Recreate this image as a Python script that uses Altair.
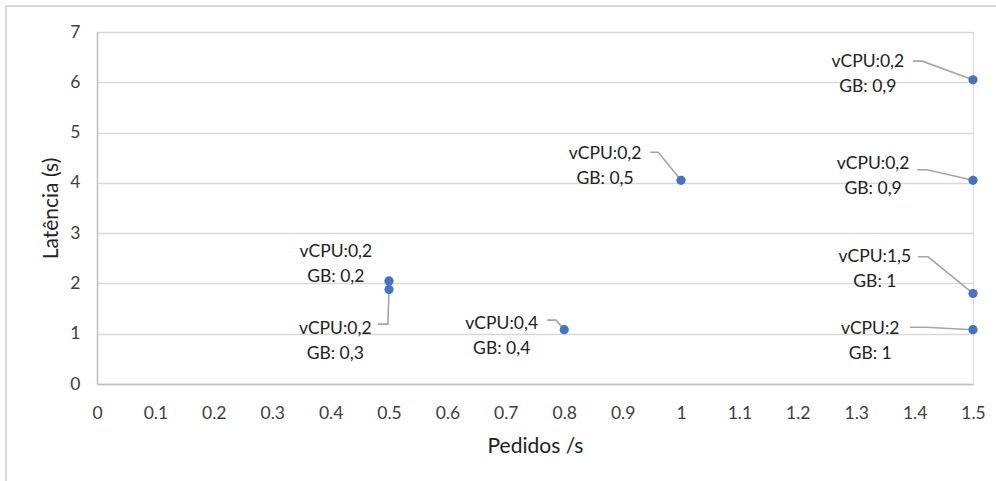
import altair as alt
import pandas as pd

# data
req_per_s = [0.5, 0.5, 0.8, 1.0, 1.5, 1.5, 1.5, 1.5]
latency_s = [2.05, 1.88, 1.08, 4.05, 6.05, 4.05, 1.80, 1.08]
vcpu_txt = ["vCPU:0,2", "vCPU:0,2", "vCPU:0,4", "vCPU:0,2", "vCPU:0,2", "vCPU:0,2", "vCPU:1,5", "vCPU:2"]
gb_txt = ["GB: 0,2", "GB: 0,3", "GB: 0,4", "GB: 0,5", "GB: 0,9", "GB: 0,9", "GB: 1", "GB: 1"]

# label anchor positions (data units)
label_x = [0.409, 0.408, 0.693, 0.870, 1.320, 1.329, 1.332, 1.324]
label_y = [2.63, 1.10, 1.20, 4.58, 6.40, 4.37, 2.52, 1.09]

# leader lines: start x, elbow x, y of horizontal segment (None = no leader)
lead_x0 = [None, 0.481, 0.771, 0.947, 1.397, 1.404, 1.406, 1.392]
lead_x1 = [None, 0.498, 0.786, 0.961, 1.413, 1.421, 1.423, 1.418]
lead_y = [None, 1.19, 1.27, 4.61, 6.42, 4.26, 2.53, 1.13]

x_ticks = [0, 0.1, 0.2, 0.3, 0.4, 0.5, 0.6, 0.7, 0.8, 0.9, 1, 1.1, 1.2, 1.3, 1.4, 1.5]
y_ticks = [0, 1, 2, 3, 4, 5, 6, 7]

FONT = "Lato"

pts = pd.DataFrame({"x": req_per_s, "y": latency_s})
labels = pd.DataFrame({
    "lx": label_x, "ly": label_y,
    "txt": [a + "\n" + b for a, b in zip(vcpu_txt, gb_txt)],
})
rows = []
for i in range(len(req_per_s)):
    if lead_x0[i] is None:
        continue
    rows.append({"id": i, "o": 0, "x": lead_x0[i], "y": lead_y[i]})
    rows.append({"id": i, "o": 1, "x": lead_x1[i], "y": lead_y[i]})
    rows.append({"id": i, "o": 2, "x": req_per_s[i], "y": latency_s[i]})
leads = pd.DataFrame(rows)

xscale = alt.Scale(domain=[0, 1.5], nice=False, zero=True)
yscale = alt.Scale(domain=[0, 7], nice=False)

xaxis = alt.Axis(values=x_ticks, format="~g", title="Pedidos /s", grid=False, ticks=False,
                 labelFlush=False, labelOverlap=False,
                 domainColor="#BFBFBF", domainWidth=1.5, labelFontSize=17.5, labelFont=FONT,
                 labelColor="#404040", labelPadding=20, titleFont=FONT, titleFontSize=21,
                 titleFontWeight="normal", titleColor="#222222", titlePadding=14)
yaxis = alt.Axis(values=y_ticks, title="Latência (s)", grid=True, gridColor="#D9D9D9", gridWidth=1.3,
                 labelFlush=False, labelOverlap=False,
                 ticks=False, domainColor="#BFBFBF", domainWidth=1.5, labelFontSize=17.5, labelFont=FONT,
                 labelColor="#404040", labelPadding=17, titleFont=FONT, titleFontSize=21,
                 titleFontWeight="normal", titleColor="#222222", titlePadding=8)

lines = alt.Chart(leads).mark_line(color="#A6A6A6", strokeWidth=1.6).encode(
    x=alt.X("x:Q", scale=xscale, axis=xaxis),
    y=alt.Y("y:Q", scale=yscale, axis=yaxis),
    detail="id:N",
    order="o:Q",
)

points = alt.Chart(pts).mark_circle(size=85, color="#4472C4", opacity=1).encode(
    x=alt.X("x:Q", scale=xscale),
    y=alt.Y("y:Q", scale=yscale),
)

text = alt.Chart(labels).mark_text(font=FONT, fontSize=17.5, lineBreak="\n", lineHeight=25,
                                   align="center", baseline="middle", color="#222222").encode(
    x=alt.X("lx:Q", scale=xscale),
    y=alt.Y("ly:Q", scale=yscale),
    text="txt:N",
)

border_top = alt.Chart(pts).mark_rule(color="#D9D9D9", strokeWidth=1.3).encode(
    x=alt.value(-91), x2=alt.value(920), y=alt.value(-26)
)
border_left = alt.Chart(pts).mark_rule(color="#D9D9D9", strokeWidth=1.3).encode(
    x=alt.value(-91), y=alt.value(-26), y2=alt.value(460)
)

chart = alt.layer(border_top, border_left, lines, points, text).properties(
    width=876, height=352,
    autosize=alt.AutoSizeParams(type="none"),
    padding={"left": 97, "top": 32, "right": 23, "bottom": 97},
).configure_view(stroke=None).configure(background="white")

chart.save("out.html", embed_options={"renderer": "svg", "actions": False})
